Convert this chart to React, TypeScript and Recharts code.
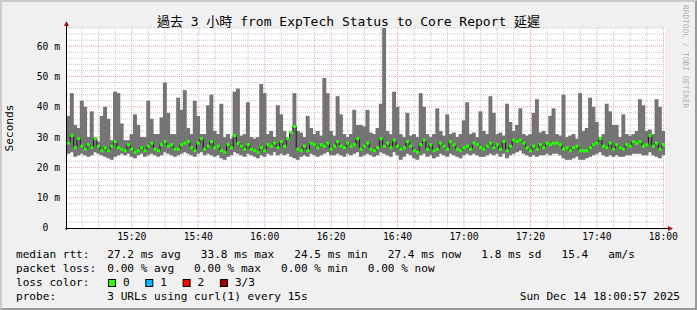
import React from 'react'
import { ComposedChart, Bar, Line, XAxis, YAxis, CartesianGrid } from 'recharts'

// one sample per minute, first sample ends ~15:01
const startHour = 15
const firstMinute = 1

const medianRtt = [
  28, 30.5, 26.5, 29.5, 27, 26, 27.5, 26.5, 29.5, 27, 25.5, 26.5, 25.5, 27, 28.5, 26.5, 26, 25.5, 27.5, 26,
  25, 25.5, 26.5, 25.5, 27, 28, 26, 25.5, 27.5, 28.5, 27, 27.5, 26, 26, 27.5, 28, 28.5, 26.5, 25.5, 28,
  29.5, 26, 27, 28.5, 26.5,
  27, 25.5, 25, 27.5, 26.5, 30.5, 28, 27, 26, 27.5, 26, 25.5, 25, 26.5, 25.5, 27.5, 27, 28, 26.5, 28.5,
  27, 29.5, 31.5, 33.5, 26, 25.5, 27, 25.5, 28, 27.5, 26.5, 27.5, 27, 28, 26, 27, 28.5, 27, 26.5, 28,
  27, 27.5, 29.5, 26, 27,
  28, 26, 25.5, 26.5, 29.5, 27, 28, 26.5, 29, 27, 26, 26.5, 28.5, 27, 25.5, 25, 27.5, 29, 26, 27.5,
  25.5, 26, 28, 27, 26, 28.5, 27.5, 26, 25.5, 26.5, 27, 26, 28, 27.5, 26.5, 26, 27, 28, 26.5, 27.5,
  26, 28.5, 25.5, 27, 29,
  28.5, 29, 28, 26.5, 25.5, 27, 26, 27.5, 26.5, 28, 27.5, 28, 28, 27.5, 26, 26.5, 25.5, 26.5, 27, 25.5,
  25.5, 25.5, 26.5, 27.5, 28, 29.5, 27, 26.5, 28, 26, 27.5, 26.5, 26, 27.5, 27, 28.5, 28, 28.5, 27, 27.5,
  30.5, 27, 28, 26, 27.5,
]

const smokeLow = [
  24.5, 25, 23.5, 24, 24.5, 24, 23.5, 24, 25, 24.5, 24, 23.5, 23, 22.5, 23.5, 24, 24.5, 24, 24.5, 23.5,
  23, 24, 24.5, 23.5, 24, 24.5, 24, 23.5, 24, 25, 24.5, 24, 23.5, 24, 24.5, 25, 24.5, 24, 23.5, 24.5,
  25, 24, 24.5, 24, 23.5,
  24, 23, 22.5, 23.5, 24, 25, 24.5, 24, 23.5, 24.5, 24, 23.5, 23, 24, 23.5, 24.5, 24, 25, 24, 24.5,
  24, 24.5, 23.5, 23, 22.5, 23.5, 24, 23.5, 24.5, 24, 23.5, 24, 24.5, 25, 24, 24, 24.5, 24, 23.5, 24.5,
  24, 24.5, 25, 23.5, 24,
  24.5, 24, 23.5, 24, 25, 24.5, 24, 23.5, 25, 24, 22.5, 23.5, 24.5, 24, 23, 22.5, 24, 24.5, 23.5, 24,
  23, 23.5, 24.5, 24, 23.5, 24.5, 24, 23.5, 23, 24, 24.5, 24, 24.5, 24, 23.5, 23.5, 24, 24.5, 24, 24.5,
  23.5, 24.5, 23, 24, 24.5,
  25, 25.5, 24.5, 24, 23.5, 24, 23.5, 24, 24, 24.5, 24, 24.5, 24.5, 24, 23, 22.5, 22.5, 23, 23.5, 22.5,
  22.5, 23, 23.5, 24, 24.5, 25, 24, 23.5, 24, 23.5, 24, 23.5, 23.5, 24, 24, 24.5, 24.5, 24.5, 24, 24,
  25, 24, 23.5, 23, 24,
]

const smokeHigh = [
  37, 44.5, 34, 33, 42, 40, 30, 38.5, 30, 28.5, 37, 40, 36, 29, 45, 44.5, 34.5, 29, 29, 31,
  37.5, 34, 30, 30, 42, 36, 31, 31, 36.5, 48, 38, 31, 31, 43, 39, 45.5, 33, 31, 42, 37,
  31, 31, 40.5, 44, 32,
  31, 41, 30, 31, 29.5, 45, 46, 30.5, 31, 41.5, 30, 29.5, 30, 47.5, 44.5, 31, 32, 30, 40.5, 37.5,
  32, 30, 31.5, 44.5, 32, 31.5, 30, 37, 33, 31, 32, 30.5, 49.5, 44.5, 32, 30.5, 43.5, 37.5, 31, 30,
  31, 39, 34, 34, 33.5,
  39, 31.5, 31, 33, 41, 66, 32, 31, 45, 40, 31, 30, 38, 30.5, 31, 30, 44.5, 40, 31, 30,
  31, 39.5, 32, 30.5, 37.5, 31, 31.5, 30, 31, 35.5, 41.5, 31, 31.5, 30, 38.5, 32, 31, 43.5, 38, 31,
  31.5, 30.5, 41, 35, 32,
  34, 39.5, 31, 30.5, 31, 38, 42.5, 31.5, 32, 31, 37, 39.5, 31, 30.5, 44, 30, 30.5, 31, 29.5, 44.5,
  32, 33, 43, 40, 35, 30, 31, 41, 38.5, 34, 34, 30, 37.5, 31, 30.5, 31, 32, 42.5, 40.5, 32,
  32.5, 31, 42.5, 40, 32,
]

const xTicks = [20, 40, 60, 80, 100, 120, 140, 160, 180]
const yTicks = [0, 10, 20, 30, 40, 50, 60]

const rttStats = ['27.2 ms avg', '33.8 ms max', '24.5 ms min', '27.4 ms now', '1.8 ms sd', '15.4   am/s']
const lossStats = ['0.00 % avg', '0.00 % max', '0.00 % min', '0.00 % now']
const lossLegend = [
  { label: '0', color: '#26ff00' },
  { label: '1', color: '#00b8ff' },
  { label: '2', color: '#ff0000' },
  { label: '3/3', color: '#a00000' },
]

const W = 697
const H = 310
const PLOT_LEFT = 67
const PLOT_TOP = 28
const PLOT_W = 598
const PLOT_H = 200
const X_DOMAIN = [0.5, 180.5]
const Y_MAX = 66
const STEP_W = PLOT_W / 180

const FONT = "'DejaVu Sans Mono', 'Noto Sans CJK TC', monospace"
const ARROW = '#a01010'
const SMOKE = '#747474'

// grid steps (rrdtool style: minor every 2 m / 5 min, major every 10 m / 20 min)
const minorY: number[] = []
for (let v = 2; v <= Y_MAX; v += 2) if (v % 10 !== 0) minorY.push(v)
const majorY = [10, 20, 30, 40, 50, 60]
const minorX: number[] = []
for (let m = 5; m <= 180; m += 5) if (m % 20 !== 0) minorX.push(m)

const data = medianRtt.map((m, i) => ({
  t: firstMinute + i,
  smoke: [smokeLow[i], smokeHigh[i]],
  median: m,
}))

const fmtTime = (m: number) => {
  const h = startHour + Math.floor(m / 60)
  const mm = m % 60
  return `${h}:${mm < 10 ? '0' + mm : mm}`
}

const fmtSeconds = (v: number) => (v === 0 ? '0\u00a0\u00a0' : `${v} m`)

// recharts shrinks bars to 90% of the band; widen them back so the smoke is continuous
const SmokeBar = (props: any) => {
  const { x, y, width, height } = props
  if (x == null || !height) return <g />
  const cx = x + width / 2
  const w = STEP_W + 0.6
  return <rect x={cx - w / 2} y={y} width={w} height={height} fill={SMOKE} />
}

const MedianDot = (props: any) => {
  const { cx, cy, index } = props
  if (cx == null || cy == null) return <g key={index} />
  return <rect key={index} x={cx - STEP_W / 2} y={cy - 1.5} width={STEP_W} height={3} fill="#26ff00" />
}

export default function App() {
  const xAxisY = PLOT_TOP + PLOT_H
  const lx = 16
  const vx = 107.3
  return (
    <div
      style={{
        position: 'absolute',
        left: 0,
        top: 0,
        width: W,
        height: H,
        background: '#f0f0f0',
        boxSizing: 'border-box',
        borderTop: '2px solid #cbcbcb',
        borderLeft: '2px solid #cbcbcb',
        borderRight: '2px solid #999999',
        borderBottom: '2px solid #999999',
        fontFamily: FONT,
      }}
    >
      <div style={{ position: 'absolute', left: -2, top: -2 }}>
        <ComposedChart
          width={W}
          height={H}
          data={data}
          margin={{ top: PLOT_TOP, right: W - PLOT_LEFT - PLOT_W, bottom: 0, left: 0 }}
          barCategoryGap={0}
          barGap={0}
        >
          <CartesianGrid
            fill="#ffffff"
            stroke="#c8c8c8"
            strokeDasharray="1 1"
            horizontalValues={minorY}
            verticalValues={minorX}
          />
          <CartesianGrid
            stroke="#f0a0a0"
            strokeDasharray="1 1"
            horizontalValues={majorY}
            verticalValues={xTicks}
          />
          <XAxis
            dataKey="t"
            type="number"
            domain={X_DOMAIN}
            allowDataOverflow
            ticks={xTicks}
            tickFormatter={fmtTime}
            axisLine={false}
            tickLine={false}
            tickSize={0}
            tickMargin={5}
            height={H - PLOT_TOP - PLOT_H}
            tick={{ fontSize: 9.7, fill: '#000', fontFamily: FONT }}
            interval={0}
          />
          <YAxis
            type="number"
            domain={[0, Y_MAX]}
            allowDataOverflow
            ticks={yTicks}
            tickFormatter={fmtSeconds}
            axisLine={false}
            tickLine={false}
            tickSize={0}
            tickMargin={7}
            width={PLOT_LEFT}
            tick={{ fontSize: 9.7, fill: '#000', fontFamily: FONT }}
            interval={0}
          />
          <Bar dataKey="smoke" fill={SMOKE} shape={SmokeBar} isAnimationActive={false} />
          <Line
            dataKey="median"
            type="step"
            stroke="#1a1a1a"
            strokeWidth={1}
            dot={MedianDot}
            activeDot={false}
            isAnimationActive={false}
          />
        </ComposedChart>
      </div>
      <svg
        width={W}
        height={H}
        style={{ position: 'absolute', left: -2, top: -2, pointerEvents: 'none' }}
        fontFamily={FONT}
      >
        {/* axes with arrows */}
        <line x1={PLOT_LEFT - 0.5} y1={xAxisY + 2} x2={PLOT_LEFT - 0.5} y2={PLOT_TOP - 4} stroke="#000" />
        <polygon points={`${PLOT_LEFT - 3},${PLOT_TOP - 2} ${PLOT_LEFT + 2},${PLOT_TOP - 2} ${PLOT_LEFT - 0.5},${PLOT_TOP - 7}`} fill={ARROW} />
        <line x1={PLOT_LEFT - 2} y1={xAxisY + 0.5} x2={PLOT_LEFT + PLOT_W + 4} y2={xAxisY + 0.5} stroke="#000" />
        <polygon points={`${PLOT_LEFT + PLOT_W + 3},${xAxisY - 2} ${PLOT_LEFT + PLOT_W + 3},${xAxisY + 3} ${PLOT_LEFT + PLOT_W + 8},${xAxisY + 0.5}`} fill={ARROW} />

        <text x={348.5} y={26} textAnchor="middle" fontSize={13} fill="#000">
          過去 3 小時 from ExpTech Status to Core Report 延遲
        </text>
        <text x={13} y={128} textAnchor="middle" fontSize={11.1} fill="#000" transform="rotate(-90 13 128)">
          Seconds
        </text>
        <text x={683} y={5} fontSize={7.8} fill="#b0b0b0" transform="rotate(90 683 5)">
          RRDTOOL / TOBI OETIKER
        </text>

        <g fontSize={11.1} fill="#000" style={{ whiteSpace: 'pre' }}>
          <text x={lx} y={258} xmlSpace="preserve">median rtt:</text>
          <text x={vx} y={258} xmlSpace="preserve">{rttStats.join('   ')}</text>
          <text x={lx} y={272} xmlSpace="preserve">packet loss:</text>
          <text x={vx} y={272} xmlSpace="preserve">{lossStats.join('   ')}</text>
          <text x={lx} y={286} xmlSpace="preserve">loss color:</text>
          {lossLegend.map((l, k) => (
            <g key={l.label}>
              <rect x={108.5 + k * 37.3} y={279.5} width={7} height={7} fill={l.color} stroke="#000" />
              <text x={123 + k * 37.3} y={286}>{l.label}</text>
            </g>
          ))}
          <text x={lx} y={300} xmlSpace="preserve">probe:</text>
          <text x={vx} y={300} xmlSpace="preserve">3 URLs using curl(1) every 15s</text>
          <text x={680} y={300} textAnchor="end">Sun Dec 14 18:00:57 2025</text>
        </g>
      </svg>
    </div>
  )
}
